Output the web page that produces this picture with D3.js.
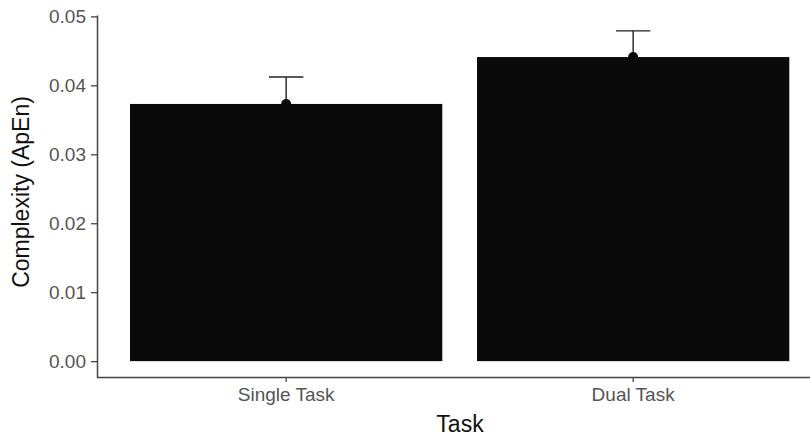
<!DOCTYPE html>
<html>
<head>
<meta charset="utf-8">
<script src="https://cdn.jsdelivr.net/npm/d3@7"></script>
<style>
  html, body { margin: 0; padding: 0; background: #fff; }
  svg { display: block; font-family: "Liberation Sans", Arial, sans-serif; }
</style>
</head>
<body>
<svg id="chart" width="810" height="441"></svg>
<script>
// Approximate entropy by task condition
const tasks = ["Single Task", "Dual Task"];
const meanApEn = [0.0373, 0.0441];
const seApEn = [0.0039, 0.0038];
const yTicks = [0, 0.01, 0.02, 0.03, 0.04, 0.05];

const svg = d3.select("#chart");

const axisLeftX = 97, axisBottomY = 377, axisTopY = 15;

const x = d3.scaleBand()
  .domain(tasks)
  .range([112.65, 806.65])
  .paddingInner(0.1)
  .paddingOuter(0.05);

const y = d3.scaleLinear()
  .domain([-0.0023, 0.0502])
  .range([axisBottomY, axisTopY]);

const data = tasks.map((t, i) => ({ task: t, mean: meanApEn[i], se: seApEn[i] }));

// error bars (drawn first; the bar hides the lower half)
const capW = x.bandwidth() * 0.11;
const eb = svg.append("g");
data.forEach(d => {
  const cx = x(d.task) + x.bandwidth() / 2;
  eb.append("line")
    .attr("x1", cx).attr("x2", cx)
    .attr("y1", y(d.mean - d.se)).attr("y2", y(d.mean + d.se))
    .attr("stroke", "#222").attr("stroke-width", 1.4);
  eb.append("line")
    .attr("x1", cx - capW / 2).attr("x2", cx + capW / 2)
    .attr("y1", y(d.mean + d.se)).attr("y2", y(d.mean + d.se))
    .attr("stroke", "#222").attr("stroke-width", 1.4);
});

// bars
svg.append("g").selectAll("rect")
  .data(data)
  .join("rect")
  .attr("x", d => x(d.task))
  .attr("width", x.bandwidth())
  .attr("y", d => y(d.mean))
  .attr("height", d => y(0) - y(d.mean))
  .attr("fill", "#0a0a0a");

// mean points
svg.append("g").selectAll("circle")
  .data(data)
  .join("circle")
  .attr("cx", d => x(d.task) + x.bandwidth() / 2)
  .attr("cy", d => y(d.mean))
  .attr("r", 5)
  .attr("fill", "#0a0a0a");

// y axis
const yAxis = svg.append("g")
  .attr("transform", `translate(${axisLeftX},0)`)
  .call(d3.axisLeft(y).tickValues(yTicks).tickFormat(d3.format(".2f")).tickSize(6).tickPadding(5).tickSizeOuter(0));
yAxis.select(".domain").attr("stroke", "#444").attr("stroke-width", 1.5);
yAxis.selectAll(".tick line").attr("stroke", "#444").attr("stroke-width", 1.3);
yAxis.selectAll(".tick text").attr("fill", "#555").attr("font-size", 19);

// x axis
const xAxis = svg.append("g")
  .attr("transform", `translate(0,${axisBottomY})`)
  .call(d3.axisBottom(x).tickSize(5).tickPadding(6).tickSizeOuter(0));
xAxis.select(".domain").attr("d", `M${axisLeftX},0.5H810`).attr("stroke", "#444").attr("stroke-width", 1.5);
xAxis.selectAll(".tick line").attr("stroke", "#444").attr("stroke-width", 1.3);
xAxis.selectAll(".tick text").attr("fill", "#555").attr("font-size", 19);

// axis titles
svg.append("text")
  .attr("x", 460).attr("y", 432)
  .attr("text-anchor", "middle")
  .attr("font-size", 23)
  .attr("fill", "#111")
  .text("Task");

svg.append("text")
  .attr("transform", "translate(29,192) rotate(-90)")
  .attr("text-anchor", "middle")
  .attr("font-size", 23)
  .attr("fill", "#111")
  .text("Complexity (ApEn)");
</script>
</body>
</html>
